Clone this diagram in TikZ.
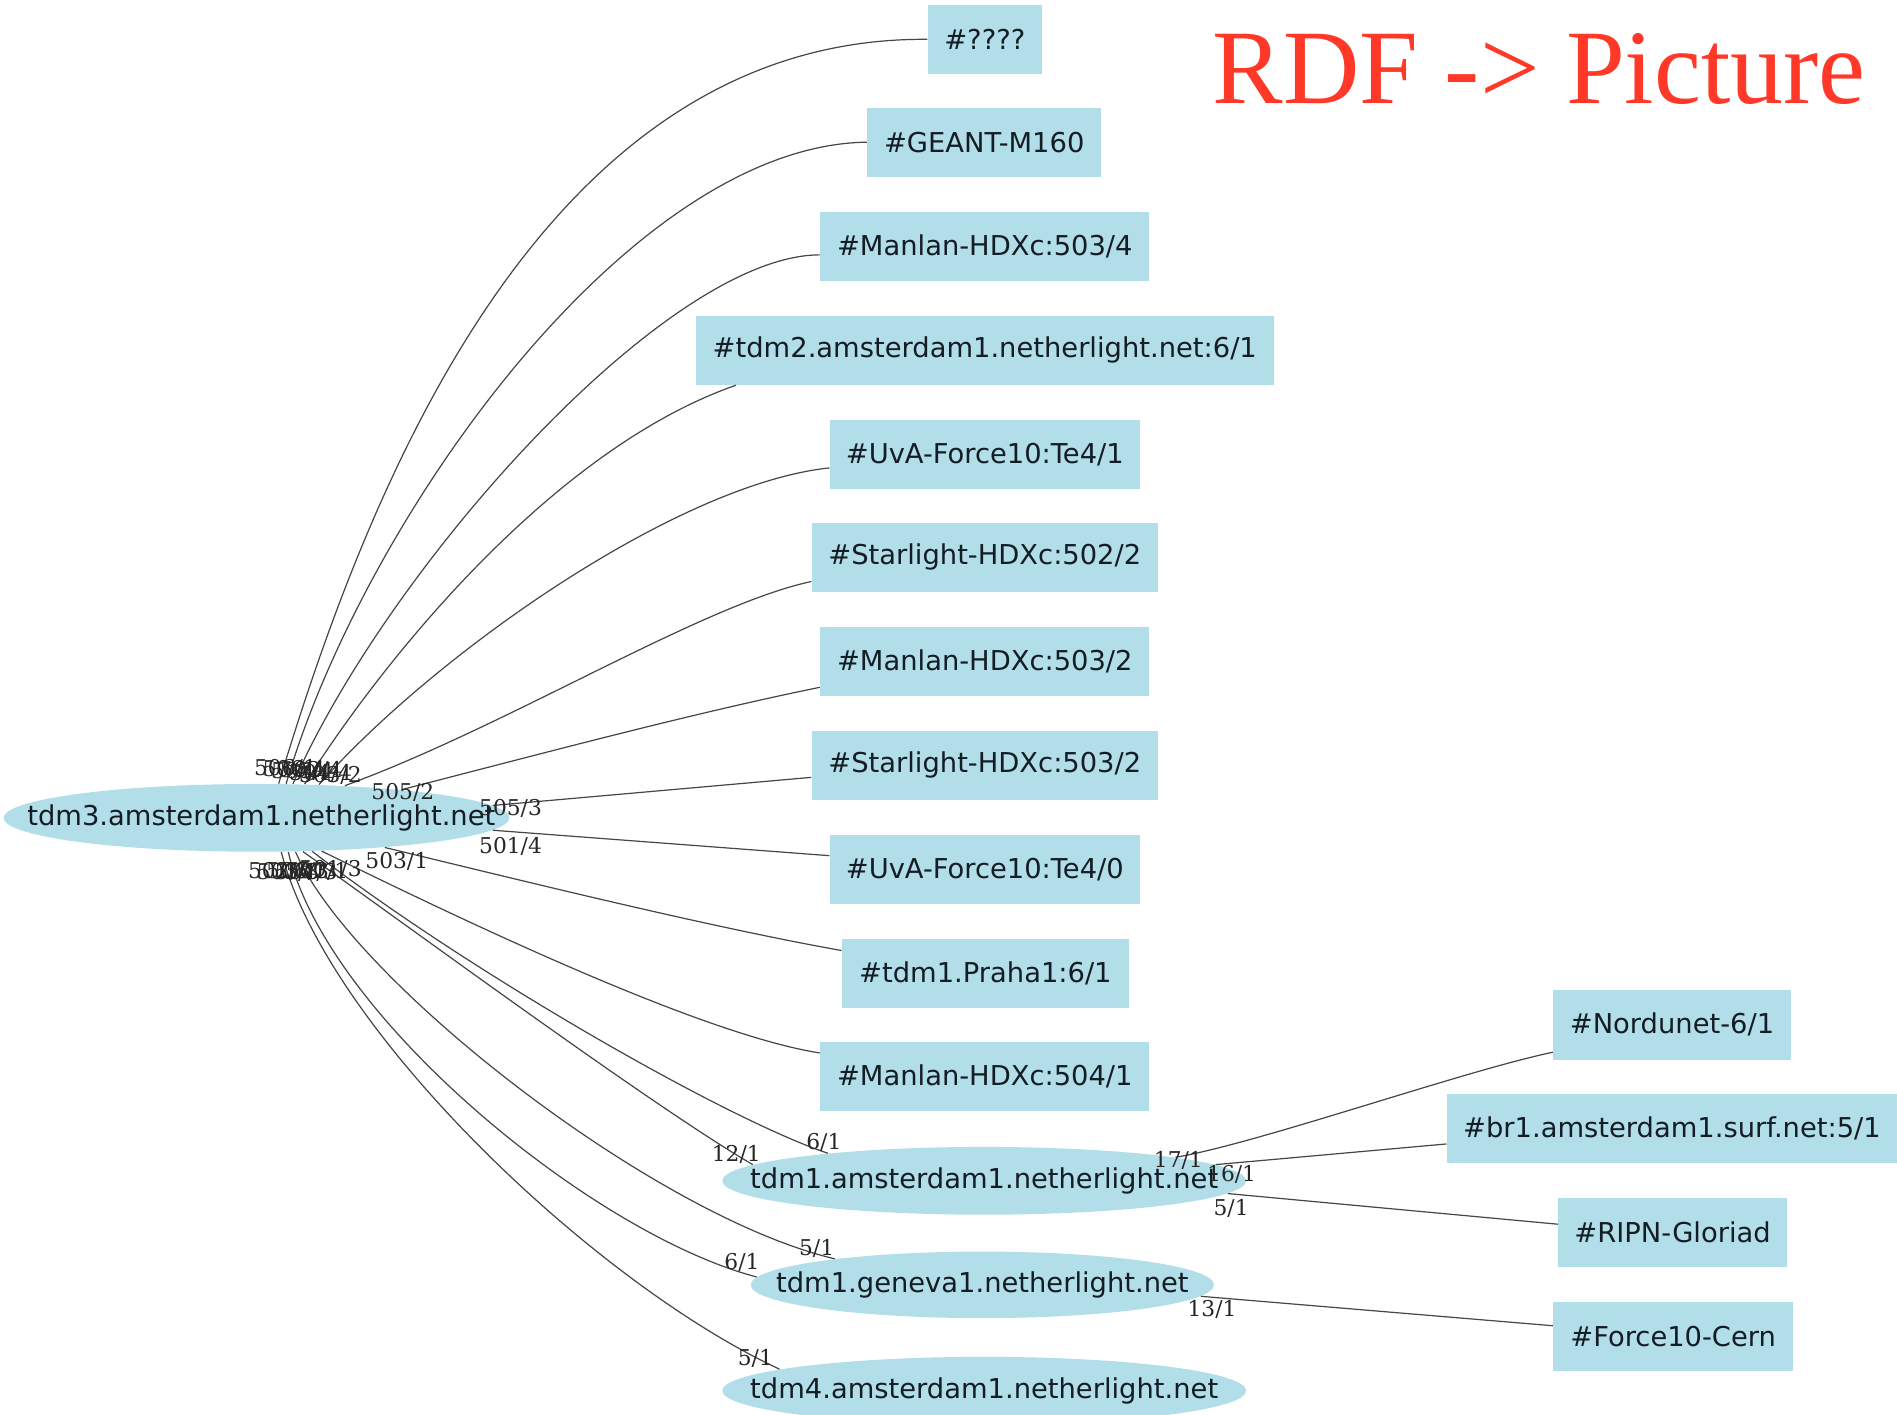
\documentclass[tikz,border=0pt]{standalone}
\usepackage{fontspec}
\usetikzlibrary{shapes.geometric}
\newfontfamily\nodefont{DejaVu Sans}
\newfontfamily\lblfont{DejaVu Serif}
\newfontfamily\ttlfont{Liberation Serif}
\definecolor{nodeblue}{RGB}{178,222,234}
\definecolor{edgegray}{RGB}{70,70,70}
\definecolor{titlered}{RGB}{255,56,40}
\definecolor{nodetext}{RGB}{20,28,36}
\begin{document}
\begin{tikzpicture}[x=0.5pt,y=-0.5pt,
  boxnode/.style={rectangle, fill=nodeblue, inner sep=0pt, minimum height=28.5pt, text=nodetext, font=\nodefont\fontsize{11.3}{13}\selectfont},
  ellnode/.style={ellipse, fill=nodeblue, inner sep=0pt, minimum height=28pt, text=nodetext, font=\nodefont\fontsize{11.3}{13}\selectfont},
  conn/.style={draw=edgegray, line width=0.5pt},
  lbl/.style={font=\lblfont\fontsize{9}{10}\selectfont, inner sep=0pt, text=black!85}]
\useasboundingbox (0,0) rectangle (1568,1169);

% title
\node[anchor=base west, inner sep=0pt, text=titlered, font=\ttlfont\fontsize{43.7}{50}\selectfont] (ttl) at (1002,85.4) {RDF -> Picture};

% box nodes
\node[boxnode, minimum width=47pt]   (q)   at (814,32.5)   {\#????};
\node[boxnode, minimum width=96.5pt] (g)   at (813.5,117.5) {\#GEANT-M160};
\node[boxnode, minimum width=136pt]  (m34) at (814,203.5)  {\#Manlan-HDXc:503/4};
\node[boxnode, minimum width=239pt]  (t2)  at (814,289.5)  {\#tdm2.amsterdam1.netherlight.net:6/1};
\node[boxnode, minimum width=128pt]  (u1)  at (814,375.5)  {\#UvA-Force10:Te4/1};
\node[boxnode, minimum width=143pt]  (s2)  at (814,460.5)  {\#Starlight-HDXc:502/2};
\node[boxnode, minimum width=136pt]  (m2)  at (814,546.5)  {\#Manlan-HDXc:503/2};
\node[boxnode, minimum width=143pt]  (s3)  at (814,632.5)  {\#Starlight-HDXc:503/2};
\node[boxnode, minimum width=128pt]  (u0)  at (814,718.5)  {\#UvA-Force10:Te4/0};
\node[boxnode, minimum width=118.5pt] (pr) at (814.5,804.5) {\#tdm1.Praha1:6/1};
\node[boxnode, minimum width=136pt]  (m4)  at (814,889.5)  {\#Manlan-HDXc:504/1};
\node[boxnode, minimum width=98pt, minimum height=29pt] (nd) at (1382,847) {\#Nordunet-6/1};
\node[boxnode, minimum width=186pt]  (br)  at (1382,932.5) {\#br1.amsterdam1.surf.net:5/1};
\node[boxnode, minimum width=94.5pt] (rp)  at (1382.5,1018.5) {\#RIPN-Gloriad};
\node[boxnode, minimum width=99pt]   (fc)  at (1383,1104.5) {\#Force10-Cern};

% ellipse nodes
\node[ellnode, minimum width=209pt] (A) at (212,676) {\makebox[0pt]{\kern4pt tdm3.amsterdam1.netherlight.net}};
\node[ellnode, minimum width=216.5pt] (B) at (813.5,976) {\makebox[0pt]{tdm1.amsterdam1.netherlight.net}};
\node[ellnode, minimum width=191.5pt, minimum height=27.5pt] (C) at (812,1062) {\makebox[0pt]{tdm1.geneva1.netherlight.net}};
\node[ellnode, minimum width=216.5pt] (D) at (813.5,1149.5) {\makebox[0pt]{tdm4.amsterdam1.netherlight.net}};

% edges from tdm3 (top)
\draw[conn] (A.57) .. controls (305,400) and (450,30) .. (q.west);
\draw[conn] (A.49) .. controls (300,430) and (520,120) .. (g.west);
\draw[conn] (A.43) .. controls (320,470) and (550,211) .. (m34.183);
\draw[conn] (A.35) .. controls (320,540) and (460,370) .. (t2.188);
\draw[conn] (A.28) .. controls (360,540) and (560,400) .. (u1.185);
\draw[conn] (A.20) .. controls (420,600) and (580,500) .. (s2.188);
\draw[conn] (A.11) .. controls (440,625) and (570,590) .. (m2.189);
\draw[conn] (A.3) -- (s3.184);
% edges from tdm3 (bottom)
\draw[conn] (A.357) -- (u0.175);
\draw[conn] (A.347) .. controls (420,725) and (580,765) .. (pr.171);
\draw[conn] (A.333) .. controls (385,762) and (580,855) .. (m4.172);
\draw[conn] (A.329) .. controls (387,803) and (600,925) .. (B.170);
\draw[conn] (A.324) .. controls (330,760) and (540,915) .. (B.176);
\draw[conn] (A.319) .. controls (290,810) and (540,1005) .. (C.170);
\draw[conn] (A.313) .. controls (270,840) and (490,1020) .. (C.178);
\draw[conn] (A.306) .. controls (270,850) and (490,1060) .. (D.174);
% right side edges
\draw[conn] (B.7) .. controls (1040,945) and (1210,885) .. (nd.193);
\draw[conn] (B.4) -- (br.184);
\draw[conn] (B.357) -- (rp.176);
\draw[conn] (C.357) -- (fc.175);

% edge labels near tdm3 (overlapping clusters)
\node[lbl] (ta) at (236,635) {506/1};
\node[lbl] (tb) at (243,636) {506/4};
\node[lbl] (tc) at (250,638) {505/4};
\node[lbl] (td) at (257,637) {502/4};
\node[lbl] (te) at (265,639) {504/4};
\node[lbl] (tf) at (273,641) {503/2};
\node[lbl] (l1) at (333,655) {505/2};
\node[lbl] (l2) at (422,668) {505/3};
\node[lbl] (l3) at (422,700) {501/4};
\node[lbl] (l4) at (328,712) {503/1};
\node[lbl] (ba) at (231,720) {502/3};
\node[lbl] (bb) at (238,721) {503/3};
\node[lbl] (bc) at (246,720) {506/3};
\node[lbl] (bd) at (253,721) {504/3};
\node[lbl] (be) at (262,720) {501/1};
\node[lbl] (bf) at (273,719) {501/3};
% head labels
\node[lbl] (h1) at (681,944) {6/1};
\node[lbl] (h2) at (608.6,953.8) {12/1};
\node[lbl] (h3) at (974,959.4) {17/1};
\node[lbl] (h4) at (1018,970.4) {16/1};
\node[lbl] (h5) at (1017.6,999) {5/1};
\node[lbl] (h6) at (675,1032) {5/1};
\node[lbl] (h7) at (613.3,1043.4) {6/1};
\node[lbl] (h8) at (1001.8,1082) {13/1};
\node[lbl] (h9) at (624.4,1122.7) {5/1};
\end{tikzpicture}
\end{document}
